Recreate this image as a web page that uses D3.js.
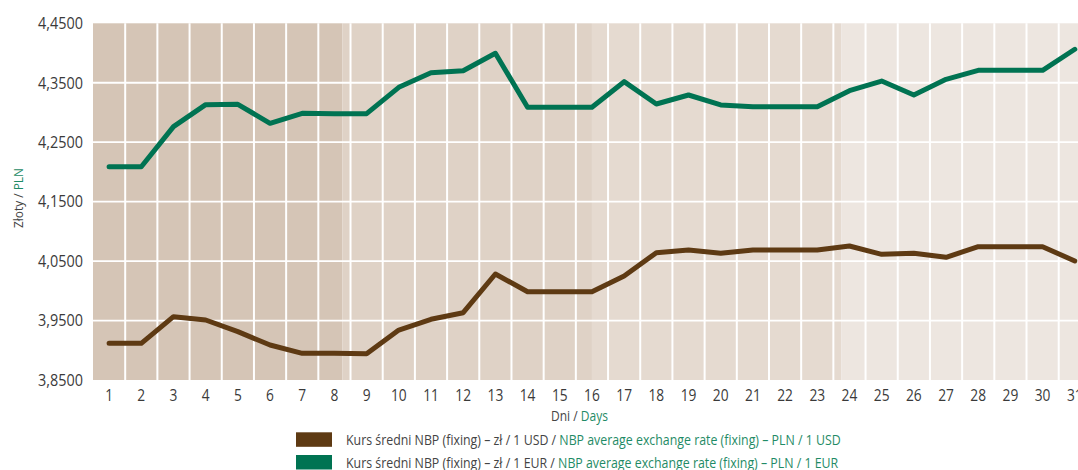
<!DOCTYPE html>
<html>
<head>
<meta charset="utf-8">
<script src="https://cdn.jsdelivr.net/npm/d3@7"></script>
<style>
  html, body { margin: 0; padding: 0; background: #ffffff; }
  svg { display: block; }
  text { font-family: "Open Sans", "Noto Sans", sans-serif; }
</style>
</head>
<body>
<svg id="chart" width="1078" height="470"></svg>
<script>
// ---- data ----
const days = d3.range(1, 32);
const usdValues = [3.9117, 3.9117, 3.9565, 3.9509, 3.9313, 3.9089, 3.8949, 3.8949, 3.8943, 3.9341,
                   3.9521, 3.9632, 4.0283, 3.9985, 3.9985, 3.9985, 4.0249, 4.0641, 4.0687, 4.0631,
                   4.0687, 4.0687, 4.0687, 4.0754, 4.0614, 4.0631, 4.0564, 4.0742, 4.0742, 4.0742, 4.0502];
const eurValues = [4.2088, 4.2088, 4.2761, 4.3131, 4.3137, 4.2818, 4.2986, 4.2980, 4.2980, 4.3423,
                   4.3669, 4.3703, 4.3995, 4.3087, 4.3087, 4.3087, 4.3518, 4.3143, 4.3294, 4.3126,
                   4.3097, 4.3097, 4.3097, 4.3366, 4.3529, 4.3294, 4.3558, 4.3709, 4.3709, 4.3709, 4.4063];
const yTicks = [3.85, 3.95, 4.05, 4.15, 4.25, 4.35, 4.45];
const legendPl = ["Kurs średni NBP (fixing) – zł / 1 USD / ", "Kurs średni NBP (fixing) – zł / 1 EUR / "];
const legendEn = ["NBP average exchange rate (fixing) – PLN / 1 USD", "NBP average exchange rate (fixing) – PLN / 1 EUR"];

// ---- styles ----
const bandColors = ["#d5c5b6", "#dfd2c6", "#e5dad0", "#ede6e0"];
const usdColor = "#5e3a13";
const eurColor = "#007352";
const greenText = "#1f8b66";
const grayText = "#3a3a3a";

(function () {
const svg = d3.select("#chart");
const pLeft = 93, pTop = 23.3, pBottom = 380, bandW = 32.19;
const pRight = pLeft + bandW * 31;

const x = d3.scaleBand().domain(days).range([pLeft, pRight]).padding(0);
const y = d3.scaleLinear().domain([3.85, 4.45]).range([pBottom, pTop]);
const xc = d => x(d) + x.bandwidth() / 2;

// background quarters
const qW = (pRight - pLeft) / 4;
svg.append("g").selectAll("rect").data(bandColors).join("rect")
  .attr("x", (d, i) => pLeft + i * qW).attr("y", pTop)
  .attr("width", qW).attr("height", pBottom - pTop)
  .attr("fill", d => d);

// gridlines
svg.append("g").selectAll("line").data(days.slice(1)).join("line")
  .attr("x1", d => x(d)).attr("x2", d => x(d))
  .attr("y1", pTop).attr("y2", pBottom)
  .attr("stroke", "#ffffff").attr("stroke-width", 2);
svg.append("g").selectAll("line").data(yTicks.slice(1, -1)).join("line")
  .attr("x1", pLeft).attr("x2", pRight)
  .attr("y1", d => y(d)).attr("y2", d => y(d))
  .attr("stroke", "#ffffff").attr("stroke-width", 1.8);

// lines
const line = d3.line().x((d, i) => xc(days[i])).y(d => y(d));
[[usdValues, usdColor], [eurValues, eurColor]].forEach(([vals, col]) => {
  svg.append("path").datum(vals).attr("d", line)
    .attr("fill", "none").attr("stroke", col).attr("stroke-width", 5)
    .attr("stroke-linejoin", "round").attr("stroke-linecap", "round");
});

// y axis
const ySx = 0.93;
const yAxis = svg.append("g").attr("transform", `translate(${pLeft},0)`)
  .call(d3.axisLeft(y).tickValues(yTicks).tickSize(0).tickPadding(0)
        .tickFormat(v => v.toFixed(4).replace(".", ",")));
yAxis.select(".domain").remove();
yAxis.selectAll("text")
  .attr("font-size", 15.5).attr("fill", grayText)
  .style("font-family", '"Open Sans", sans-serif')
  .attr("x", -10 / ySx).attr("dy", "0.34em")
  .attr("transform", `scale(${ySx},1)`);

// x axis
const xSx = 0.86;
const xAxis = svg.append("g").attr("transform", `translate(0,${pBottom})`)
  .call(d3.axisBottom(x).tickSize(0).tickPadding(0));
xAxis.select(".domain").remove();
xAxis.selectAll("text")
  .attr("font-size", 16).attr("fill", grayText)
  .style("font-family", '"Open Sans", sans-serif')
  .attr("y", 21.5).attr("dy", 0)
  .attr("transform", `scale(${xSx},1)`);

// x axis title
const xt = svg.append("text").attr("font-size", 15).attr("fill", "#444");
xt.append("tspan").text("Dni / ");
xt.append("tspan").attr("fill", greenText).text("Days");
{
  const w = xt.node().getComputedTextLength();
  xt.attr("transform", `translate(551,421) scale(${57 / w},1)`);
}

// y axis title
const yt = svg.append("text").attr("font-size", 12.5).attr("fill", "#444");
yt.append("tspan").text("Złoty / ");
yt.append("tspan").attr("fill", greenText).text("PLN");
{
  const w = yt.node().getComputedTextLength();
  yt.attr("transform", `translate(22.7,228) rotate(-90) scale(${60 / w},1)`);
}

// legend
const legColors = [usdColor, eurColor];
let legScale = null;
legendPl.forEach((pl, i) => {
  const rowY = 432.3 + i * 22.7;
  svg.append("rect").attr("x", 296).attr("y", rowY).attr("width", 36).attr("height", 14.5)
    .attr("fill", legColors[i]);
  const t = svg.append("text").attr("font-size", 15).attr("fill", "#444");
  t.append("tspan").text(pl);
  t.append("tspan").attr("fill", greenText).text(legendEn[i]);
  if (legScale === null) {
    const w = t.node().getComputedTextLength();
    legScale = 495 / w;
  }
  t.attr("transform", `translate(346,${rowY + 12.8}) scale(${legScale},1)`);
});
})();
</script>
</body>
</html>
